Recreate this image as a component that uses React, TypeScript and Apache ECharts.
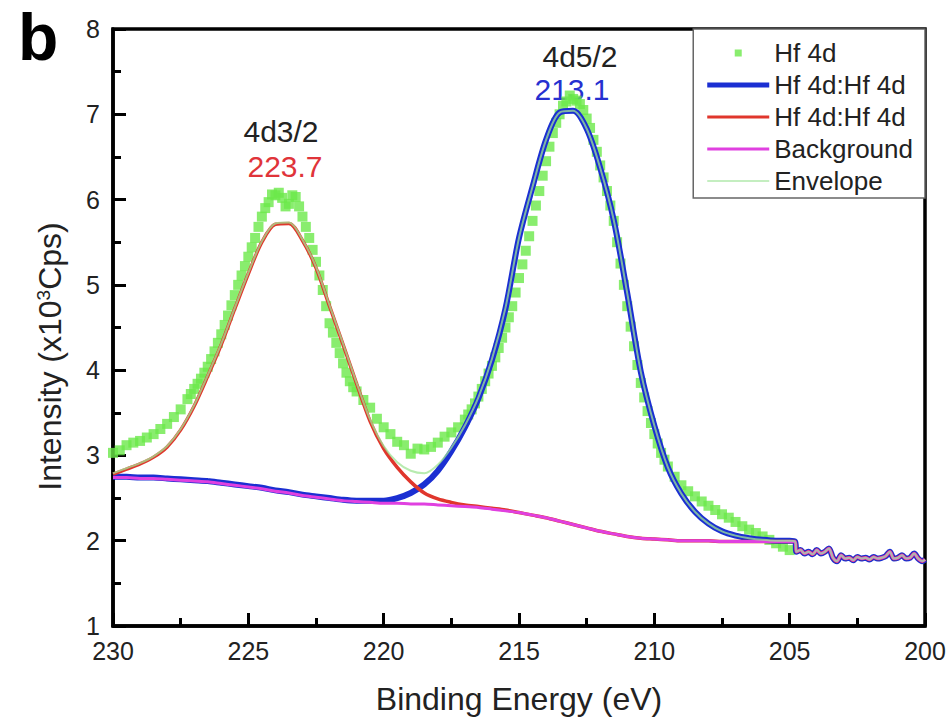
import React, { useEffect, useRef } from "react";
import * as echarts from "echarts";

// ---- measured Hf 4d spectrum (green squares) ----
const measuredEnergy = [
  230, 229.75, 229.5, 229.25, 229, 228.75, 228.5, 228.25, 228, 227.75, 227.5, 227.25,
  227.125, 227, 226.875, 226.75, 226.625, 226.5, 226.375, 226.25, 226.125, 226,
  225.875, 225.75, 225.625, 225.5, 225.375, 225.25, 225.125, 225, 224.875, 224.75,
  224.625, 224.5, 224.375, 224.25, 224.125, 224, 223.875, 223.75, 223.625, 223.5,
  223.375, 223.25, 223.125, 223, 222.875, 222.75, 222.625, 222.5, 222.375, 222.25,
  222.125, 222, 221.875, 221.75, 221.625, 221.5, 221.375, 221.25, 221.125,
  221, 220.75, 220.5, 220.25, 220, 219.75, 219.5, 219.25, 219, 218.75, 218.5, 218.25,
  218, 217.75, 217.5, 217.25, 217,
  216.875, 216.75, 216.625, 216.5, 216.375, 216.25, 216.125, 216, 215.875, 215.75,
  215.625, 215.5, 215.375, 215.25, 215.125, 215, 214.875, 214.75, 214.625, 214.5,
  214.375, 214.25, 214.125, 214, 213.875, 213.75, 213.625, 213.5, 213.375, 213.25,
  213.125, 213, 212.875, 212.75, 212.625, 212.5, 212.375, 212.25, 212.125, 212,
  211.875, 211.75, 211.625, 211.5, 211.375, 211.25, 211.125, 211, 210.875, 210.75,
  210.625, 210.5, 210.375, 210.25, 210.125, 210, 209.875, 209.75, 209.625, 209.5,
  209.25, 209, 208.75, 208.5, 208.25, 208, 207.75, 207.5, 207.25, 207, 206.75, 206.5,
  206.25, 206, 205.75, 205.5, 205.25, 205,
];
const measuredIntensity = [
  3.03, 3.06, 3.12, 3.15, 3.17, 3.21, 3.25, 3.31, 3.37, 3.45, 3.54, 3.66,
  3.72, 3.78, 3.84, 3.9, 3.97, 4.04, 4.13, 4.22, 4.32, 4.42,
  4.53, 4.64, 4.76, 4.88, 5.0, 5.11, 5.22, 5.33, 5.44, 5.55,
  5.68, 5.8, 5.9, 5.97, 6.06, 6.05, 6.08, 6.02, 5.92, 5.95,
  6.05, 6.03, 5.92, 5.8, 5.68, 5.55, 5.41, 5.27, 5.11, 4.94,
  4.75, 4.55, 4.44, 4.32, 4.2, 4.08, 3.97, 3.87, 3.8,
  3.75, 3.65, 3.56, 3.43, 3.33, 3.25, 3.16, 3.12, 3.02, 3.08, 3.07, 3.1,
  3.15, 3.22, 3.27, 3.33, 3.42,
  3.48, 3.54, 3.61, 3.69, 3.78, 3.87, 3.96, 4.05, 4.15, 4.26,
  4.38, 4.5, 4.62, 4.75, 4.91, 5.08, 5.24, 5.4, 5.57, 5.75,
  5.93, 6.1, 6.28, 6.45, 6.62, 6.78, 6.9, 7.0, 7.1, 7.15,
  7.22, 7.18, 7.16, 7.12, 7.05, 6.95, 6.84, 6.7, 6.56, 6.4,
  6.26, 6.1, 5.93, 5.75, 5.5, 5.25, 5.0, 4.75, 4.51, 4.28,
  4.06, 3.85, 3.68, 3.52, 3.38, 3.25, 3.14, 3.03, 2.95, 2.87,
  2.75, 2.65, 2.58, 2.52, 2.46, 2.41, 2.36, 2.31, 2.27, 2.22, 2.17, 2.13,
  2.09, 2.05, 2.01, 1.97, 1.93, 1.89,
];

// ---- fitted curves ----
const fitEnergy = [
  230, 229.5, 229, 228.5, 228, 227.5, 227, 226.5, 226, 225.5,
  225, 224.5, 224, 223.5, 223, 222.5, 222, 221.5, 221, 220.5,
  220, 219.5, 219, 218.5, 218, 217.5, 217, 216.5, 216, 215.5,
  215, 214.5, 214, 213.5, 213, 212.5, 212, 211.5, 211, 210.5,
  210, 209.5, 209, 208.5, 208, 207.5, 207, 206.5, 206, 205.5, 205,
];
const peak5Fit = [
  2.75, 2.75, 2.74, 2.74, 2.73, 2.72, 2.71, 2.7, 2.68, 2.66,
  2.64, 2.62, 2.59, 2.57, 2.54, 2.52, 2.5, 2.48, 2.47, 2.47,
  2.47, 2.5, 2.56, 2.66, 2.82, 3.05, 3.33, 3.67, 4.12, 4.72,
  5.55, 6.15, 6.7, 7.02, 7.04, 6.83, 6.37, 5.76, 4.9, 3.98,
  3.35, 2.86, 2.55, 2.34, 2.2, 2.11, 2.06, 2.03, 2.01, 2.0, 2.0,
];
const peak3Fit = [
  2.78, 2.84, 2.9, 2.98, 3.1, 3.3, 3.58, 3.93, 4.3, 4.72,
  5.13, 5.5, 5.71, 5.72, 5.52, 5.2, 4.75, 4.3, 3.84, 3.4,
  3.08, 2.86, 2.69, 2.56, 2.49, 2.45, 2.42, 2.4, 2.38, 2.36,
  2.33, 2.3, 2.27, 2.23, 2.19, 2.15, 2.11, 2.08, 2.05, 2.03,
  2.02, 2.01, 2.0, 2.0, 2.0, 1.99, 1.99, 1.99, 1.99, 1.99, 1.99,
];
const backgroundFit = [
  2.74, 2.74, 2.73, 2.73, 2.72, 2.71, 2.7, 2.69, 2.67, 2.65,
  2.63, 2.61, 2.58, 2.56, 2.53, 2.51, 2.49, 2.47, 2.46, 2.45,
  2.44, 2.44, 2.43, 2.43, 2.42, 2.41, 2.4, 2.39, 2.37, 2.35,
  2.33, 2.3, 2.27, 2.23, 2.19, 2.15, 2.11, 2.08, 2.05, 2.03,
  2.02, 2.01, 2.0, 2.0, 2.0, 1.99, 1.99, 1.99, 1.99, 1.99, 1.99,
];
const envelopeFit = [
  2.79, 2.85, 2.91, 2.99, 3.11, 3.31, 3.59, 3.94, 4.31, 4.73,
  5.14, 5.51, 5.72, 5.73, 5.53, 5.21, 4.76, 4.31, 3.85, 3.42,
  3.11, 2.92, 2.82, 2.79, 2.89, 3.09, 3.35, 3.68, 4.13, 4.73,
  5.55, 6.15, 6.7, 7.02, 7.04, 6.83, 6.37, 5.76, 4.9, 3.98,
  3.35, 2.86, 2.55, 2.34, 2.2, 2.11, 2.06, 2.03, 2.01, 2.0, 2.0,
];
// noisy low-energy tail shared by all curves
const tailEnergy = [
  204.8, 204.75, 204.6, 204.45, 204.3, 204.15, 204, 203.85, 203.7, 203.55,
  203.4, 203.25, 203.1, 202.95, 202.8, 202.65, 202.5, 202.35, 202.2, 202.05,
  201.9, 201.75, 201.6, 201.45, 201.3, 201.15, 201, 200.85, 200.7, 200.55,
  200.4, 200.25, 200.1, 200,
];
const tailIntensity = [
  1.99, 1.87, 1.89, 1.85, 1.87, 1.84, 1.89, 1.85, 1.87, 1.91,
  1.8, 1.76, 1.83, 1.79, 1.8, 1.77, 1.81, 1.79, 1.8, 1.78,
  1.81, 1.79, 1.8, 1.82, 1.87, 1.79, 1.8, 1.83, 1.79, 1.8,
  1.85, 1.79, 1.76, 1.78,
];

const seriesNames = ["Hf 4d", "Hf 4d:Hf 4d#1", "Hf 4d:Hf 4d#2", "Background", "Envelope"];

const FONT = '"Liberation Sans", Arial, Helvetica, sans-serif';
const GREEN = "#6be84a";
const BLUE = "#1b2fd2";
const RED = "#e0362c";
const MAGENTA = "#e040e0";
const ENVELOPE = "rgba(160,228,150,0.75)";

const pairs = (xs: number[], ys: number[]) => xs.map((x, i) => [x, ys[i]]);
const withTail = (ys: number[]) =>
  pairs(fitEnergy.concat(tailEnergy), ys.concat(tailIntensity));

function buildOption() {
  const lineBase = {
    type: "line",
    showSymbol: false,
    symbol: "none",
    smooth: 0.3,
    clip: true,
  };
  const axisLineStyle = { color: "#000", width: 3.5 };
  const tickStyle = { color: "#000", width: 3 };
  return {
    animation: false,
    backgroundColor: "#fff",
    textStyle: { fontFamily: FONT },
    grid: {
      left: 113,
      right: 26,
      top: 29,
      bottom: 91,
      show: true,
      borderColor: "#000",
      borderWidth: 3.5,
      backgroundColor: "transparent",
    },
    xAxis: {
      type: "value",
      min: 200,
      max: 230,
      interval: 5,
      inverse: true,
      name: "Binding Energy (eV)",
      nameLocation: "middle",
      nameGap: 57,
      nameTextStyle: { fontSize: 32, color: "#222", fontFamily: FONT },
      axisLine: { show: true, onZero: false, lineStyle: axisLineStyle },
      axisTick: { show: true, inside: true, length: 13, lineStyle: tickStyle },
      minorTick: { show: true, splitNumber: 2, length: 8, lineStyle: tickStyle },
      axisLabel: {
        fontSize: 25,
        color: "#222",
        margin: 12,
        fontFamily: FONT,
        showMinLabel: true,
        showMaxLabel: true,
      },
      splitLine: { show: false },
    },
    yAxis: {
      type: "value",
      min: 1,
      max: 8,
      interval: 1,
      name: "Intensity (x10{sup|3}Cps)",
      nameLocation: "middle",
      nameGap: 47,
      nameTextStyle: {
        fontSize: 32,
        color: "#222",
        fontFamily: FONT,
        padding: [0, 58, 0, 0],
        rich: {
          sup: { fontSize: 19, color: "#222", fontFamily: FONT, verticalAlign: "top", lineHeight: 32 },
        },
      },
      axisLine: { show: true, onZero: false, lineStyle: axisLineStyle },
      axisTick: { show: true, inside: true, length: 13, lineStyle: tickStyle },
      minorTick: { show: true, splitNumber: 2, length: 8, lineStyle: tickStyle },
      axisLabel: { fontSize: 25, color: "#222", margin: 13, fontFamily: FONT },
      splitLine: { show: false },
    },
    legend: {
      orient: "vertical",
      right: 26,
      top: 29,
      padding: [11, 12, 4, 14],
      itemGap: 6,
      itemWidth: 62,
      itemHeight: 7,
      backgroundColor: "#fff",
      borderColor: "#666",
      borderWidth: 1.5,
      symbolKeepAspect: true,
      textStyle: { fontSize: 26, color: "#222", fontFamily: FONT, lineHeight: 26 },
      formatter: (n: string) => n.split("#")[0],
      data: [
        { name: seriesNames[0], icon: "path://M0 0H7V7H0Z", itemStyle: { color: GREEN, borderWidth: 0 } },
        { name: seriesNames[1], icon: "path://M0 0H62V5H0Z", itemStyle: { color: BLUE, borderWidth: 0 } },
        { name: seriesNames[2], icon: "path://M0 0H62V3H0Z", itemStyle: { color: RED, borderWidth: 0 } },
        { name: seriesNames[3], icon: "path://M0 0H62V3H0Z", itemStyle: { color: MAGENTA, borderWidth: 0 } },
        { name: seriesNames[4], icon: "path://M0 0H62V2H0Z", itemStyle: { color: "#c4eec0", borderWidth: 0 } },
      ],
    },
    graphic: [
      {
        type: "text",
        left: 18,
        top: 4,
        style: { text: "b", font: `bold 66px ${FONT}`, fill: "#000" },
      },
      {
        type: "text",
        x: 281,
        y: 131,
        style: { text: "4d3/2", font: `30px ${FONT}`, fill: "#222", textAlign: "center", textVerticalAlign: "middle" },
      },
      {
        type: "text",
        x: 285,
        y: 166,
        style: { text: "223.7", font: `30px ${FONT}`, fill: "#e0343a", textAlign: "center", textVerticalAlign: "middle" },
      },
      {
        type: "text",
        x: 580,
        y: 56,
        style: { text: "4d5/2", font: `30px ${FONT}`, fill: "#222", textAlign: "center", textVerticalAlign: "middle" },
      },
      {
        type: "text",
        x: 572,
        y: 89,
        style: { text: "213.1", font: `30px ${FONT}`, fill: "#2630d0", textAlign: "center", textVerticalAlign: "middle" },
      },
    ],
    series: [
      {
        name: seriesNames[0],
        type: "scatter",
        symbol: "rect",
        symbolSize: 10,
        color: GREEN,
        itemStyle: { color: GREEN },
        data: pairs(measuredEnergy, measuredIntensity),
        z: 1,
      },
      {
        ...lineBase,
        name: seriesNames[1],
        color: BLUE,
        itemStyle: { color: BLUE },
        lineStyle: { color: BLUE, width: 6 },
        data: withTail(peak5Fit),
        z: 2,
      },
      {
        ...lineBase,
        name: seriesNames[2],
        color: RED,
        itemStyle: { color: RED },
        lineStyle: { color: RED, width: 3.5 },
        data: withTail(peak3Fit),
        z: 3,
      },
      {
        ...lineBase,
        name: seriesNames[3],
        color: MAGENTA,
        itemStyle: { color: MAGENTA },
        lineStyle: { color: MAGENTA, width: 3 },
        data: withTail(backgroundFit),
        z: 4,
      },
      {
        ...lineBase,
        name: seriesNames[4],
        color: ENVELOPE,
        itemStyle: { color: ENVELOPE },
        lineStyle: { color: ENVELOPE, width: 2 },
        data: withTail(envelopeFit),
        z: 5,
      },
    ],
  };
}

export default function App() {
  const ref = useRef<HTMLDivElement>(null);
  useEffect(() => {
    if (!ref.current) return;
    const chart = echarts.init(ref.current, null, { renderer: "svg" });
    chart.setOption(buildOption() as any);
    return () => chart.dispose();
  }, []);
  return (
    <div
      ref={ref}
      style={{ position: "absolute", left: 0, top: 0, width: 951, height: 720, background: "#fff" }}
    />
  );
}
